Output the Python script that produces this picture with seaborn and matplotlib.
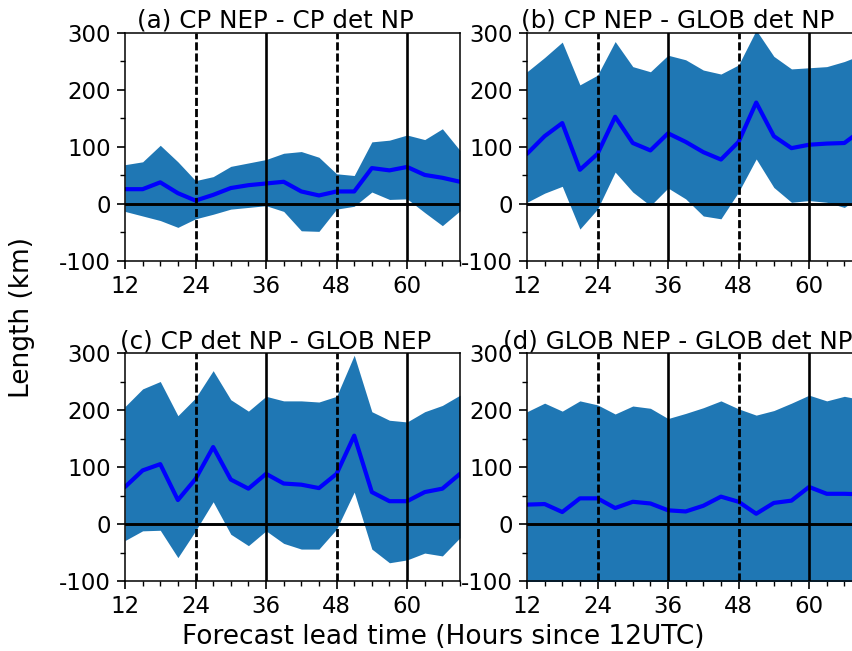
import numpy as np
import pandas as pd
import matplotlib
matplotlib.use('Agg')
import matplotlib.pyplot as plt
import seaborn as sns
from matplotlib.ticker import MultipleLocator

sns.set_style('ticks')
plt.rcParams['font.family'] = ['DejaVu Sans']
plt.rcParams['axes.unicode_minus'] = False
plt.rcParams['text.color'] = 'black'
plt.rcParams['xtick.color'] = 'black'
plt.rcParams['ytick.color'] = 'black'

# forecast lead times (hours since 12UTC)
hours = [12, 15, 18, 21, 24, 27, 30, 33, 36, 39, 42, 45, 48, 51, 54, 57, 60, 63, 66, 69]

# (a) CP NEP - CP det NP
a_mean = [26, 26, 38, 19, 6, 16, 28, 33, 36, 39, 22, 15, 22, 22, 63, 59, 65, 51, 46, 39]
a_low = [-13, -21, -29, -41, -26, -18, -9, -6, -3, -13, -47, -48, -9, -4, 21, 8, 9, -15, -38, -12]
a_high = [69, 74, 103, 74, 41, 48, 66, 72, 78, 89, 92, 82, 53, 50, 109, 112, 121, 113, 132, 94]

# (b) CP NEP - GLOB det NP
b_mean = [88, 119, 142, 60, 88, 153, 107, 94, 124, 109, 91, 78, 109, 178, 119, 98, 104, 106, 107, 130]
b_low = [3, 19, 31, -44, -9, 56, 21, -3, 28, 9, -21, -26, 21, 79, 29, 3, 6, 3, -6, 15]
b_high = [232, 257, 284, 209, 226, 285, 241, 232, 261, 253, 235, 228, 244, 305, 259, 237, 239, 241, 250, 262]

# (c) CP det NP - GLOB NEP
c_mean = [65, 94, 105, 42, 79, 135, 78, 62, 88, 71, 69, 63, 88, 155, 56, 40, 40, 56, 62, 88]
c_low = [-29, -12, -11, -59, -12, 39, -18, -38, -12, -34, -44, -44, -9, 56, -44, -68, -63, -51, -56, -24]
c_high = [206, 237, 250, 190, 221, 269, 218, 198, 224, 216, 216, 214, 224, 296, 197, 182, 179, 197, 208, 226]

# (d) GLOB NEP - GLOB det NP
d_mean = [34, 35, 21, 45, 45, 28, 39, 36, 24, 22, 32, 48, 39, 18, 37, 41, 65, 53, 53, 52]
d_low = [-140, -128, -152, -125, -131, -148, -136, -129, -158, -161, -140, -122, -135, -155, -138, -131, -110, -120, -127, -125]
d_high = [197, 212, 198, 216, 209, 193, 207, 203, 185, 194, 204, 216, 202, 191, 199, 212, 226, 216, 224, 218]

panels = [
    ('(a) CP NEP - CP det NP', a_mean, a_low, a_high),
    ('(b) CP NEP - GLOB det NP', b_mean, b_low, b_high),
    ('(c) CP det NP - GLOB NEP', c_mean, c_low, c_high),
    ('(d) GLOB NEP - GLOB det NP', d_mean, d_low, d_high),
]

W, H = 852, 651
fig = plt.figure(figsize=(W / 100, H / 100), dpi=100)

# axes boxes in pixels: left, top, width, height (right column runs off the page)
boxes = [(125, 33, 335, 228), (527, 33, 335, 228),
         (125, 353, 335, 228), (527, 353, 335, 228)]

for (title, mean, low, high), (l, t, w, h) in zip(panels, boxes):
    ax = fig.add_axes([l / W, 1 - (t + h) / H, w / W, h / H])
    df = pd.DataFrame({'hours': hours, 'mean': mean, 'low': low, 'high': high})
    ax.fill_between(df['hours'], df['low'], df['high'], color='#1f77b4', lw=0)
    sns.lineplot(data=df, x='hours', y='mean', ax=ax, color='blue', lw=3)
    for xv in [24, 48]:
        ax.axvline(xv, color='black', lw=2, dashes=(2.9, 1.1), zorder=4)
    for xv in [36, 60]:
        ax.axvline(xv, color='black', lw=1.9, zorder=4)
    ax.axhline(0, color='black', lw=2.1, zorder=4)

    ax.set_xlim(12, 69)
    ax.set_ylim(-100, 300)
    ax.set_xticks([12, 24, 36, 48, 60])
    ax.set_yticks([-100, 0, 100, 200, 300])
    ax.xaxis.set_minor_locator(MultipleLocator(3))
    ax.yaxis.set_minor_locator(MultipleLocator(50))
    ax.tick_params(which='major', length=6, width=1.2, labelsize=16.5, pad=4, color='black')
    ax.tick_params(which='minor', length=3.5, width=1, color='black')
    for sp in ax.spines.values():
        sp.set_color('black')
        sp.set_linewidth(1.1)
    ax.set_xlabel('')
    ax.set_ylabel('')
    ax.set_title(title, x=0.45, fontsize=17.7, pad=2)

fig.text(22 / W, 1 - 318 / H, 'Length (km)', rotation=90, ha='center', va='center', fontsize=19)
fig.text(443 / W, 1 - 637 / H, 'Forecast lead time (Hours since 12UTC)', ha='center', va='center', fontsize=19)

fig.savefig('out.png', dpi=100)
